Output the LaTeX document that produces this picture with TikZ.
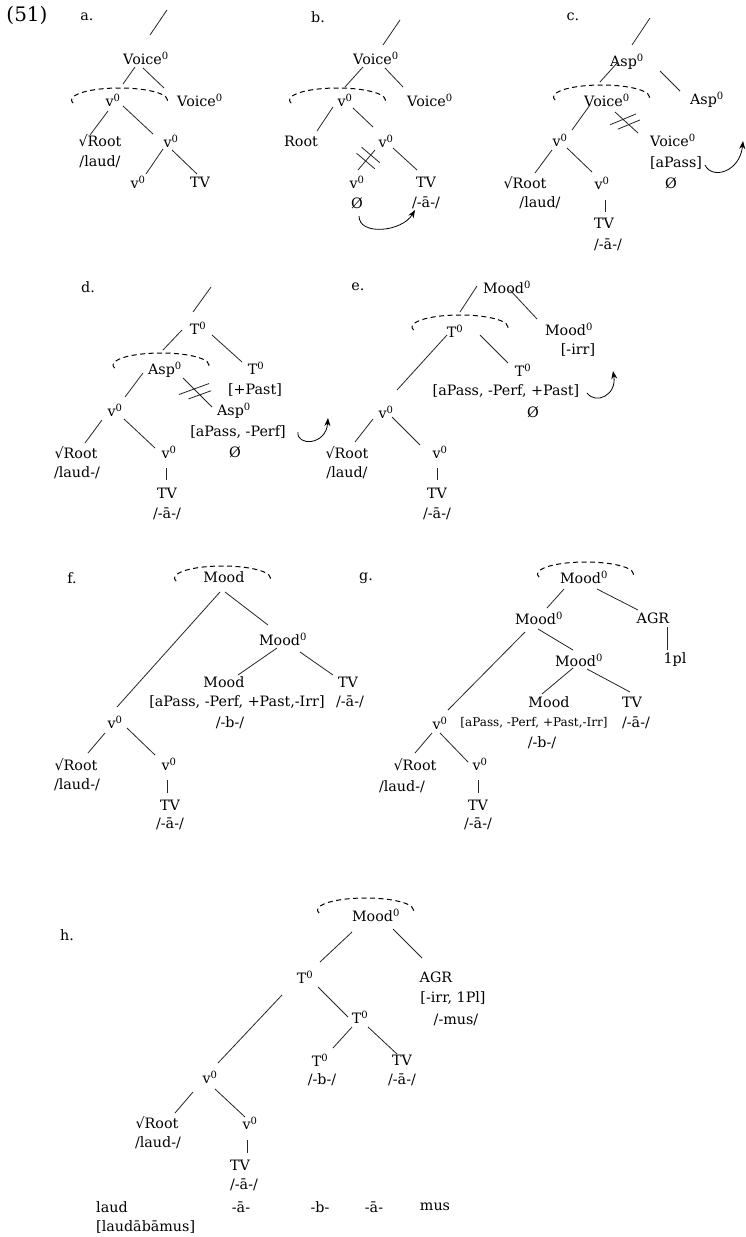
\documentclass[tikz,border=0pt]{standalone}
\usepackage{fontspec}
\setmainfont{DejaVu Serif}
\usepackage{tikz}
\usetikzlibrary{calc,arrows.meta}
\newcommand{\zr}{\textsuperscript{0}}

\begin{document}
\begin{tikzpicture}[
            x=1pt, y=-1pt,
            lab/.style={
                inner sep=0pt,
                font=\fontsize{14.3}{17}\selectfont
            },
            smalllab/.style={
                lab,
                font=\fontsize{12}{14}\selectfont
            },
            branch/.style={
                draw=black!85,
                line width=0.8pt
            },
            hoodline/.style={
                draw=black,
                line width=1pt,
                dash pattern=on 5pt off 3.5pt
            },
            movearrow/.style={
                draw=black,
                line width=0.8pt,
                -{Stealth[length=8pt,width=6pt]}
            }
        ]
        \useasboundingbox[fill=white] (0,0) rectangle (745,1237);

        \node[lab, font=\fontsize{20}{22}\selectfont] (exNum) at (27,15) {(51)};

        % --- Tree a ---
        \node[lab] (aLabel) at (87,17) {a.};
        \coordinate (aTop) at (167,10);
        \node[lab] (aVoice) at (146,58) {Voice\zr};
        \node[lab] (aV) at (113,100) {v\zr};
        \node[lab] (aVoiceR) at (200,100) {Voice\zr};
        \node[lab] (aRoot) at (100,141) {√Root};
        \node[lab] (aRootPh) at (100,162) {/laud/};
        \node[lab] (aVv) at (171,141) {v\zr};
        \node[lab] (aVl) at (138,182) {v\zr};
        \node[lab] (aTV) at (200,182) {TV};

        \draw[branch] (aTop) -- ($(aVoice)+(4,-23)$);
        \draw[branch] ($(aVoice)+(-11,9)$) -- ($(aV)+(10,-16)$);
        \draw[branch] ($(aVoice)+(-3,10)$) -- ($(aVoiceR)+(-36,-12)$);
        \draw[branch] ($(aV)+(-5,11)$) -- ($(aRoot)+(-10,-6)$);
        \draw[branch] ($(aV)+(10,6)$) -- ($(aVv)+(-18,-7)$);
        \draw[branch] ($(aVv)+(-8,8)$) -- ($(aVl)+(8,-8)$);
        \draw[branch] ($(aVv)+(1,9)$) -- ($(aTV)+(-3,-8)$);
        \draw[hoodline] ($(aV)+(-39.9,3.1)$)
            arc[start angle=195, end angle=-15, x radius=48pt, y radius=12pt];

        % --- Tree b ---
        \node[lab] (bLabel) at (318,17) {b.};
        \coordinate (bTop) at (400,20);
        \node[lab] (bVoice) at (376,58) {Voice\zr};
        \node[lab] (bV) at (345,100) {v\zr};
        \node[lab] (bVoiceR) at (430,100) {Voice\zr};
        \node[lab] (bRoot) at (301,141) {Root};
        \node[lab] (bVv) at (386,141) {v\zr};
        \node[lab] (bVl) at (357,182) {v\zr};
        \node[lab] (bTV) at (426,182) {TV};
        \node[lab] (bNull) at (357,203) {Ø};
        \node[lab] (bTVPh) at (426,203) {/-ā-/};
        \coordinate (bArrowTip) at (415,210);

        \draw[branch] (bTop) -- ($(bVoice)+(7,-13)$);
        \draw[branch] ($(bVoice)+(-13,9)$) -- ($(bV)+(0,-13)$);
        \draw[branch] ($(bVoice)+(9,10)$) -- ($(bVoiceR)+(-27,-13)$);
        \draw[branch] ($(bV)+(-12,7)$) -- ($(bRoot)+(16,-10)$);
        \draw[branch] ($(bV)+(8,8)$) -- ($(bVv)+(-13,-14)$);
        \draw[branch] ($(bVv)+(-11,9)$) coordinate (bCutA)
            -- ($(bVl)+(1,-12)$) coordinate (bCutB);
        \draw[branch] ($(bCutA)!.25!(bCutB)!12pt!90:(bCutB)$)
            -- ($(bCutA)!.25!(bCutB)!12pt!-90:(bCutB)$);
        \draw[branch] ($(bCutA)!.55!(bCutB)!12pt!90:(bCutB)$)
            -- ($(bCutA)!.55!(bCutB)!12pt!-90:(bCutB)$);
        \draw[branch] ($(bVv)+(7,7)$) -- ($(bTV)+(-9,-12)$);
        \draw[hoodline] ($(bV)+(-53.9,3.1)$)
            arc[start angle=195, end angle=-15, x radius=48pt, y radius=12pt];
        \draw[movearrow] ($(bNull)+(2,13)$)
            .. controls ($(bNull)+(2,33)$) and ($(bArrowTip)+(-13,22)$) .. (bArrowTip);

        % --- Tree c ---
        \node[lab] (cLabel) at (573,17) {c.};
        \coordinate (cTop) at (650,18);
        \node[lab] (cAsp) at (627,62) {Asp\zr};
        \node[lab] (cVoice) at (607,100) {Voice\zr};
        \node[lab] (cAspR) at (707,100) {Asp\zr};
        \node[lab] (cV) at (560,140) {v\zr};
        \node[lab] (cVoiceL) at (673,140) {Voice\zr};
        \node[lab] (cFeat) at (676,163) {[aPass]};
        \node[lab] (cNull) at (671,183) {Ø};
        \node[lab] (cRoot) at (525,183) {√Root};
        \node[lab] (cRootPh) at (540,203) {/laud/};
        \node[lab] (cVv) at (602,183) {v\zr};
        \node[lab] (cTV) at (604,223) {TV};
        \node[lab] (cTVPh) at (608,245) {/-ā-/};
        \coordinate (cArrowTip) at (743,141);

        \draw[branch] (cTop) -- ($(cAsp)+(5,-17)$);
        \draw[branch] ($(cAsp)+(-9,0)$) -- ($(cVoice)+(-7,-18)$);
        \draw[branch] ($(cAsp)+(33,9)$) -- ($(cAspR)+(-27,-9)$);
        \draw[branch] ($(cVoice)+(-17,5)$) -- ($(cV)+(12,-10)$);
        \draw[branch] ($(cVoice)+(8,12)$) coordinate (cCutA)
            -- ($(cVoiceL)+(-35,-7)$) coordinate (cCutB);
        \draw[branch] ($(cCutA)!.35!(cCutB)!14pt!65:(cCutB)$)
            -- ($(cCutA)!.35!(cCutB)!14pt!-115:(cCutB)$);
        \draw[branch] ($(cCutA)!.6!(cCutB)!12pt!65:(cCutB)$)
            -- ($(cCutA)!.6!(cCutB)!12pt!-115:(cCutB)$);
        \draw[branch] ($(cV)+(-8,10)$) -- ($(cRoot)+(10,-10)$);
        \draw[branch] ($(cV)+(7,8)$) -- ($(cVv)+(-10,-11)$);
        \draw[branch] ($(cVv)+(3,17)$) -- ($(cTV)+(1,-11)$);
        \draw[hoodline] ($(cVoice)+(-51.9,0.1)$)
            arc[start angle=195, end angle=-15, x radius=48pt, y radius=12pt];
        \draw[movearrow] ($(cFeat)+(29,2)$)
            .. controls ($(cFeat)+(36,17)$) and ($(cArrowTip)+(-3,31)$) .. (cArrowTip);

        % --- Tree d ---
        \node[lab] (dLabel) at (88,287) {d.};
        \coordinate (dTop) at (211,287);
        \node[lab] (dT) at (198,328) {T\zr};
        \node[lab] (dAsp) at (165,370) {Asp\zr};
        \node[lab] (dTR) at (256,368) {T\zr};
        \node[lab] (dTRFeat) at (255,390) {[+Past]};
        \node[lab] (dV) at (115,410) {v\zr};
        \node[lab] (dAspL) at (234,411) {Asp\zr};
        \node[lab] (dAspFeat) at (238,432) {[aPass, -Perf]};
        \node[lab] (dNull) at (235,452) {Ø};
        \node[lab] (dRoot) at (76,453) {√Root};
        \node[lab] (dRootPh) at (77,473) {/laud-/};
        \node[lab] (dVv) at (169,452) {v\zr};
        \node[lab] (dTV) at (167,493) {TV};
        \node[lab] (dTVPh) at (167,514) {/-ā-/};
        \coordinate (dArrowTip) at (328,418);

        \draw[branch] (dTop) -- ($(dT)+(-5,-16)$);
        \draw[branch] ($(dT)+(-16,2)$) -- ($(dAsp)+(-2,-20)$);
        \draw[branch] ($(dT)+(14,7)$) -- ($(dTR)+(-14,-6)$);
        \draw[branch] ($(dAsp)+(-22,3)$) -- ($(dV)+(10,-13)$);
        \draw[branch] ($(dAsp)+(18,8)$) coordinate (dCutA)
            -- ($(dAspL)+(-22,-4)$) coordinate (dCutB);
        \draw[branch] ($(dCutA)!.38!(dCutB)!16pt!65:(dCutB)$)
            -- ($(dCutA)!.38!(dCutB)!16pt!-115:(dCutB)$);
        \draw[branch] ($(dCutA)!.58!(dCutB)!12pt!65:(dCutB)$)
            -- ($(dCutA)!.58!(dCutB)!12pt!-115:(dCutB)$);
        \draw[branch] ($(dV)+(-13,10)$) -- ($(dRoot)+(9,-10)$);
        \draw[branch] ($(dV)+(9,9)$) -- ($(dVv)+(-14,-4)$);
        \draw[branch] ($(dVv)+(-3,16)$) -- ($(dTV)+(-1,-13)$);
        \draw[hoodline] ($(dAsp)+(-50.4,-1.9)$)
            arc[start angle=195, end angle=-15, x radius=48pt, y radius=12pt];
        \draw[movearrow] ($(dAspFeat)+(60,0)$)
            .. controls ($(dAspFeat)+(58,14)$) and ($(dArrowTip)+(-2,28)$) .. (dArrowTip);

        % --- Tree e ---
        \node[lab] (eLabel) at (358,287) {e.};
        \node[lab] (eMood) at (507,287) {Mood\zr};
        \node[lab] (eT) at (455,331) {T\zr};
        \node[lab] (eMoodR) at (569,329) {Mood\zr};
        \node[lab] (eMoodFeat) at (578,350) {[-irr]};
        \node[lab] (eV) at (386,412) {v\zr};
        \node[lab] (eTL) at (523,370) {T\zr};
        \node[lab] (eTFeat) at (506,391) {[aPass, -Perf, +Past]};
        \node[lab] (eNull) at (533,412) {Ø};
        \node[lab] (eRoot) at (347,453) {√Root};
        \node[lab] (eRootPh) at (347,473) {/laud/};
        \node[lab] (eVv) at (440,452) {v\zr};
        \node[lab] (eTV) at (437,493) {TV};
        \node[lab] (eTVPh) at (437,514) {/-ā-/};
        \coordinate (eArrowTip) at (613,371);

        \draw[branch] ($(eMood)+(-30,-1)$) -- ($(eT)+(5,-19)$);
        \draw[branch] ($(eMood)+(3,3)$) -- ($(eMoodR)+(-32,-10)$);
        \draw[branch] ($(eT)+(-8,4)$) -- ($(eV)+(11,-22)$);
        \draw[branch] ($(eT)+(25,4)$) -- ($(eTL)+(-15,-7)$);
        \draw[branch] ($(eV)+(-13,7)$) -- ($(eRoot)+(8,-11)$);
        \draw[branch] ($(eV)+(6,5)$) -- ($(eVv)+(-20,-7)$);
        \draw[branch] ($(eVv)+(-3,16)$) -- ($(eTV)+(0,-13)$);
        \draw[hoodline] ($(eT)+(-41.4,-0.9)$)
            arc[start angle=195, end angle=-15, x radius=48pt, y radius=12pt];
        \draw[movearrow] ($(eTFeat)+(81,2)$)
            .. controls ($(eTFeat)+(90,14)$) and ($(eArrowTip)+(4,24)$) .. (eArrowTip);

        % --- Tree f ---
        \node[lab] (fLabel) at (72,578) {f.};
        \node[lab] (fMood) at (224,577) {Mood};
        \node[lab] (fMoodR) at (283,639) {Mood\zr};
        \node[lab] (fV) at (115,722) {v\zr};
        \node[lab] (fMoodL) at (224,682) {Mood};
        \node[lab] (fMoodFeat) at (237,702) {[aPass, -Perf, +Past,-Irr]};
        \node[lab] (fMoodPh) at (230,723) {/-b-/};
        \node[lab] (fTV) at (348,682) {TV};
        \node[lab] (fTVPh) at (350,702) {/-ā-/};
        \node[lab] (fRoot) at (76,765) {√Root};
        \node[lab] (fRootPh) at (77,785) {/laud-/};
        \node[lab] (fVv) at (169,764) {v\zr};
        \node[lab] (fTVb) at (170,805) {TV};
        \node[lab] (fTVbPh) at (170,824) {/-ā-/};

        \draw[branch] ($(fMood)+(-4,15)$) -- ($(fV)+(2,-15)$);
        \draw[branch] ($(fMood)+(1,15)$) -- ($(fMoodR)+(-15,-14)$);
        \draw[branch] ($(fMoodR)+(-6,9)$) -- ($(fMoodL)+(14,-7)$);
        \draw[branch] ($(fMoodR)+(17,13)$) -- ($(fTV)+(-15,-7)$);
        \draw[branch] ($(fV)+(-10,11)$) -- ($(fRoot)+(12,-12)$);
        \draw[branch] ($(fV)+(12,6)$) -- ($(fVv)+(-14,-9)$);
        \draw[branch] ($(fVv)+(-2,16)$) -- ($(fTVb)+(-3,-12)$);
        \draw[hoodline] ($(fMood)+(-47.9,4.1)$)
            arc[start angle=195, end angle=-15, x radius=48pt, y radius=12pt];

        % --- Tree g ---
        \node[lab] (gLabel) at (366,578) {g.};
        \node[lab] (gMood) at (584,577) {Mood\zr};
        \node[lab] (gMoodL) at (539,618) {Mood\zr};
        \node[lab] (gAgr) at (653,618) {AGR};
        \node[lab] (gAgrPh) at (675,660) {1pl};
        \node[lab] (gMoodM) at (579,660) {Mood\zr};
        \node[lab] (gV) at (440,723) {v\zr};
        \node[lab] (gMoodLow) at (549,702) {Mood};
        \node[smalllab] (gMoodFeat) at (534,723) {[aPass, -Perf, +Past,-Irr]};
        \node[lab] (gMoodPh) at (542,743) {/-b-/};
        \node[lab] (gTV) at (632,702) {TV};
        \node[lab] (gTVPh) at (636,723) {/-ā-/};
        \node[lab] (gRoot) at (415,765) {√Root};
        \node[lab] (gRootPh) at (402,787) {/laud-/};
        \node[lab] (gVv) at (480,764) {v\zr};
        \node[lab] (gTVb) at (478,805) {TV};
        \node[lab] (gTVbPh) at (478,824) {/-ā-/};

        \draw[branch] ($(gMood)+(-20,12)$) -- ($(gMoodL)+(8,-10)$);
        \draw[branch] ($(gMood)+(13,12)$) -- ($(gAgr)+(-15,-8)$);
        \draw[branch] ($(gAgr)+(14,9)$) -- ($(gAgrPh)+(-8,-10)$);
        \draw[branch] ($(gMoodL)+(-14,14)$) -- ($(gV)+(8,-13)$);
        \draw[branch] ($(gMoodL)+(-1,11)$) -- ($(gMoodM)+(-6,-10)$);
        \draw[branch] ($(gMoodM)+(-6,8)$) -- ($(gMoodLow)+(-7,-8)$);
        \draw[branch] ($(gMoodM)+(8,9)$) -- ($(gTV)+(-2,-10)$);
        \draw[branch] ($(gV)+(-8,10)$) -- ($(gRoot)+(0,-12)$);
        \draw[branch] ($(gV)+(0,10)$) -- ($(gVv)+(-12,-2)$);
        \draw[branch] ($(gVv)+(-2,16)$) -- ($(gTVb)+(0,-12)$);
        \draw[hoodline] ($(gMood)+(-44.9,0.1)$)
            arc[start angle=195, end angle=-15, x radius=48pt, y radius=12pt];

        % --- Tree h ---
        \node[lab] (hLabel) at (67,935) {h.};
        \node[lab] (hMood) at (376,915) {Mood\zr};
        \node[lab] (hT) at (305,977) {T\zr};
        \node[lab] (hAgr) at (436,977) {AGR};
        \node[lab] (hAgrFeat) at (453,998) {[-irr, 1Pl]};
        \node[lab] (hAgrPh) at (456,1020) {/-mus/};
        \node[lab] (hTR) at (360,1017) {T\zr};
        \node[lab] (hTL) at (320,1060) {T\zr};
        \node[lab] (hTLPh) at (322,1080) {/-b-/};
        \node[lab] (hTV) at (402,1060) {TV};
        \node[lab] (hTVPh) at (402,1080) {/-ā-/};
        \node[lab] (hV) at (210,1077) {v\zr};
        \node[lab] (hRoot) at (157,1123) {√Root};
        \node[lab] (hRootPh) at (158,1143) {/laud-/};
        \node[lab] (hVv) at (250,1123) {v\zr};
        \node[lab] (hTVb) at (240,1165) {TV};
        \node[lab] (hTVbPh) at (244,1185) {/-ā-/};

        \draw[branch] ($(hMood)+(-24,17)$) -- ($(hT)+(15,-15)$);
        \draw[branch] ($(hMood)+(17,14)$) -- ($(hAgr)+(-14,-19)$);
        \draw[branch] ($(hT)+(-23,18)$) -- ($(hV)+(8,-14)$);
        \draw[branch] ($(hT)+(13,10)$) -- ($(hTR)+(-12,0)$);
        \draw[branch] ($(hTR)+(-8,10)$) -- ($(hTL)+(13,-12)$);
        \draw[branch] ($(hTR)+(8,10)$) -- ($(hTV)+(-5,-6)$);
        \draw[branch] ($(hV)+(-17,15)$) -- ($(hRoot)+(18,-10)$);
        \draw[branch] ($(hV)+(5,12)$) -- ($(hVv)+(-5,-6)$);
        \draw[branch] ($(hVv)+(-3,17)$) -- ($(hTVb)+(7,-12)$);
        \draw[hoodline] ($(hMood)+(-56.9,-1.9)$)
            arc[start angle=195, end angle=-15, x radius=48pt, y radius=12pt];

        % --- Segmentation ---
        \node[lab, anchor=west] (hLaud) at (96,1207) {laud};
        \node[lab] (hSegA) at (241,1207) {-ā-};
        \node[lab] (hSegB) at (320,1207) {-b-};
        \node[lab] (hSegC) at (374,1207) {-ā-};
        \node[lab] (hSegD) at (435,1207) {mus};
        \node[lab, anchor=west] (hWord) at (96,1227) {[laudābāmus]};

        \end{tikzpicture}
\end{document}
